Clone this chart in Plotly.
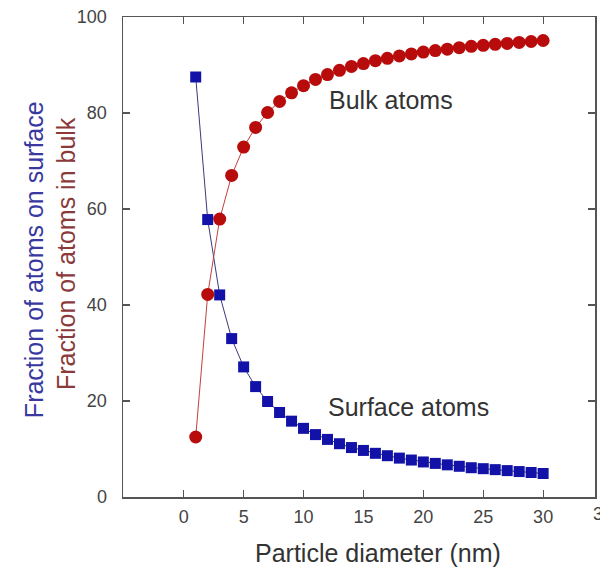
import plotly.graph_objects as go

diameter_nm = list(range(1, 31))
surface_pct = [87.5, 57.8, 42.1, 33.0, 27.1, 23.0, 19.9, 17.6, 15.8, 14.3,
               13.0, 12.0, 11.1, 10.3, 9.7, 9.1, 8.6, 8.1, 7.7, 7.3,
               7.0, 6.7, 6.4, 6.1, 5.9, 5.7, 5.5, 5.3, 5.1, 4.9]
bulk_pct = [12.5, 42.2, 57.9, 67.0, 72.9, 77.0, 80.1, 82.4, 84.2, 85.7,
            87.0, 88.0, 88.9, 89.7, 90.3, 90.9, 91.4, 91.9, 92.3, 92.7,
            93.0, 93.3, 93.6, 93.9, 94.1, 94.3, 94.5, 94.7, 94.9, 95.1]
x_ticks = [0, 5, 10, 15, 20, 25, 30]
y_ticks = [0, 20, 40, 60, 80, 100]

FONT = "Liberation Sans, Arial, sans-serif"
AX = "#555555"

fig = go.Figure()
fig.add_trace(go.Scatter(
    x=diameter_nm, y=surface_pct, mode="lines+markers",
    line=dict(color="#3a3a7a", width=1),
    marker=dict(symbol="square", size=11, color="#1212a8"),
    showlegend=False, hoverinfo="skip"))
fig.add_trace(go.Scatter(
    x=diameter_nm, y=bulk_pct, mode="lines+markers",
    line=dict(color="#c04040", width=1),
    marker=dict(symbol="circle", size=13, color="#b80c0c"),
    showlegend=False, hoverinfo="skip"))

fig.update_layout(
    width=600, height=569,
    margin=dict(l=123, r=3, t=17, b=72),
    paper_bgcolor="white", plot_bgcolor="white",
    font=dict(family=FONT, color="#444444"),
    xaxis=dict(range=[-5.07, 34.33], tickvals=x_ticks, showgrid=False, zeroline=False,
               showline=True, linecolor=AX, linewidth=1.5, mirror="ticks",
               ticks="inside", ticklen=7, tickcolor=AX, tickwidth=1.2,
               tickfont=dict(size=18, color="#444444"), ticklabelstandoff=3),
    yaxis=dict(range=[0, 100], tickvals=y_ticks, showgrid=False, zeroline=False,
               showline=True, linecolor=AX, linewidth=1.5, mirror="ticks",
               ticks="inside", ticklen=7, tickcolor=AX, tickwidth=1.2,
               tickfont=dict(size=18, color="#444444"), ticklabelstandoff=11),
)

def px_x(p):
    return (p - 123) / 474

def px_y(p):
    return (497.5 - p) / 480.5

annots = [
    dict(text="Fraction of atoms on surface", xref="paper", yref="paper",
         x=px_x(33), y=px_y(260), textangle=-90,
         font=dict(size=25, color="#3838a0", family=FONT)),
    dict(text="Fraction of atoms in bulk", xref="paper", yref="paper",
         x=px_x(66), y=px_y(254), textangle=-90,
         font=dict(size=25, color="#8a3a3a", family=FONT)),
    dict(text="Particle diameter (nm)", xref="paper", yref="paper",
         x=px_x(379), y=px_y(554),
         font=dict(size=25, color="#333333", family=FONT)),
    dict(text="Bulk atoms", xref="x", yref="y", x=12.0, y=82.7,
         xanchor="left",
         font=dict(size=25, color="#333333", family=FONT)),
    dict(text="Surface atoms", xref="x", yref="y", x=11.9, y=18.8,
         xanchor="left",
         font=dict(size=25, color="#333333", family=FONT)),
    dict(text="35", xref="paper", yref="paper", x=px_x(605), y=px_y(515),
         font=dict(size=18, color="#444444", family=FONT)),
]
for a in annots:
    a["showarrow"] = False
    a.setdefault("xanchor", "center")
    a["yanchor"] = "middle"
fig.update_layout(annotations=annots)

fig.write_html("out.html", config={"displayModeBar": False, "staticPlot": True},
               post_script="document.body.style.margin='0';document.body.style.overflow='hidden';")
